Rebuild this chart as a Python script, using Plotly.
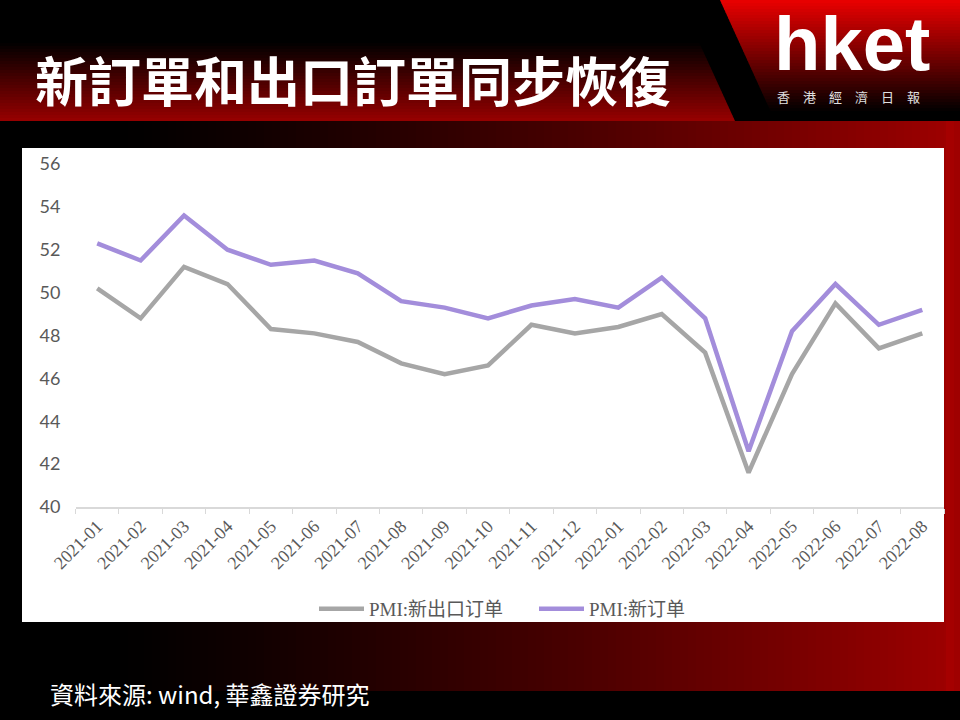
import plotly.graph_objects as go

W, H = 960, 720

months = ["2021-01", "2021-02", "2021-03", "2021-04", "2021-05", "2021-06",
          "2021-07", "2021-08", "2021-09", "2021-10", "2021-11", "2021-12",
          "2022-01", "2022-02", "2022-03", "2022-04", "2022-05", "2022-06",
          "2022-07", "2022-08"]
new_export_orders = [50.2, 48.8, 51.2, 50.4, 48.3, 48.1, 47.7, 46.7, 46.2, 46.6,
                     48.5, 48.1, 48.4, 49.0, 47.2, 41.6, 46.2, 49.5, 47.4, 48.1]
new_orders = [52.3, 51.5, 53.6, 52.0, 51.3, 51.5, 50.9, 49.6, 49.3, 48.8,
              49.4, 49.7, 49.3, 50.7, 48.8, 42.6, 48.2, 50.4, 48.5, 49.2]
y_ticks = [40, 42, 44, 46, 48, 50, 52, 54, 56]

name_export = "PMI:新出口订单"
name_orders = "PMI:新订单"
title_text = "新訂單和出口訂單同步恢復"
source_text = "資料來源: wind, 華鑫證券研究"

GRAY = "#a6a6a6"
PURPLE = "#a38ddb"
TXT = "#595959"


def px(x):
    return x / W


def py(y):
    return 1 - y / H


def rect(x0, y0, x1, y1, color):
    return dict(type="rect", xref="paper", yref="paper",
                x0=px(x0), x1=px(x1), y0=py(y1), y1=py(y0),
                fillcolor=color, line=dict(width=0), layer="below")


def quad(pts, color):
    path = "M " + " L ".join(f"{px(a):.5f},{py(b):.5f}" for a, b in pts) + " Z"
    return dict(type="path", xref="paper", yref="paper", path=path,
                fillcolor=color, line=dict(width=0), layer="below")


def red(r):
    r = int(max(0, min(255, r)))
    return f"rgb({r},0,0)"


shapes = []

# horizontal background gradient (black -> red)
step = 8
for x0 in range(0, W, step):
    t = max(0.0, (x0 + step / 2 - 100) / 860)
    shapes.append(rect(x0, 121, x0 + step + 0.5, 691, red(160 * t ** 1.3)))

# right edge accent stripe
shapes.append(rect(946, 121, 954, 691, "#a50000"))

# title banner (vertical gradient, slanted right edge)
def banner_x(y):
    return 698 + (y - 40) * (735 - 698) / 81

for y0 in range(40, 121, 3):
    y1 = min(121, y0 + 3.5)
    t = max(0.0, (y0 + 1.5 - 42) / 78)
    shapes.append(quad([(0, y0), (banner_x(y0), y0), (banner_x(y1), y1), (0, y1)],
                       red(150 * t)))

# logo block (red fading to black, slanted left edge)
def logo_x(y):
    return 720 + y * (775 - 720) / 121

for y0 in range(0, 121, 3):
    y1 = min(121, y0 + 3.5)
    t = max(0.0, 1 - (y0 + 1.5) / 112)
    shapes.append(quad([(logo_x(y0), y0), (W, y0), (W, y1), (logo_x(y1), y1)],
                       red(235 * t)))

# white chart card
shapes.append(rect(22, 148, 944, 622, "white"))

fig = go.Figure()
fig.add_trace(go.Scatter(x=months, y=new_export_orders, mode="lines",
                         name=name_export, line=dict(color=GRAY, width=4.5)))
fig.add_trace(go.Scatter(x=months, y=new_orders, mode="lines",
                         name=name_orders, line=dict(color=PURPLE, width=4.5)))

annotations = [
    dict(text=title_text, x=px(33), y=py(79), xref="paper", yref="paper",
         xanchor="left", yanchor="middle", showarrow=False,
         font=dict(family="Noto Sans CJK TC", size=53, color="white", weight="bold")),
    dict(text="hket", x=px(773), y=py(43), xref="paper", yref="paper",
         xanchor="left", yanchor="middle", showarrow=False, borderpad=0,
         font=dict(family="Liberation Sans", size=76, color="white", weight="bold")),
    dict(text="香　港　經　濟　日　報", x=px(776), y=py(97), xref="paper", yref="paper",
         xanchor="left", yanchor="middle", showarrow=False, borderpad=0,
         font=dict(family="Noto Sans CJK TC", size=13, color="#e0e0e0")),
    dict(text=source_text, x=px(48), y=py(693), xref="paper", yref="paper",
         xanchor="left", yanchor="middle", showarrow=False,
         font=dict(family="Noto Sans CJK TC", size=24, color="white")),
]

fig.update_layout(
    template="none",
    width=W, height=H,
    margin=dict(l=0, r=0, t=0, b=0),
    paper_bgcolor="black",
    plot_bgcolor="rgba(0,0,0,0)",
    shapes=shapes,
    annotations=annotations,
    showlegend=True,
    legend=dict(orientation="h", x=px(314), y=py(609), xanchor="left",
                yanchor="middle", bgcolor="rgba(0,0,0,0)",
                font=dict(family="Liberation Serif, Noto Sans CJK SC", size=19, color=TXT),
                itemwidth=45, entrywidth=160, entrywidthmode="pixels"),
    xaxis=dict(domain=[px(75.5), px(944)], type="category",
               range=[-0.5, len(months) - 0.5],
               showgrid=False, zeroline=False,
               showline=True, linecolor="#d9d9d9", linewidth=1.5,
               ticks="outside", ticklen=5, tickcolor="#d9d9d9", tickwidth=1.2,
               tickson="boundaries", tickangle=-45,
               tickfont=dict(family="Liberation Serif", size=18, color=TXT)),
    yaxis=dict(domain=[py(507), py(164)], range=[40, 56],
               tickvals=y_ticks, ticktext=[str(v) for v in y_ticks],
               showgrid=False, zeroline=False, showline=False, ticks="",
               ticklabelstandoff=14,
               tickfont=dict(family="Lato", size=18, color=TXT)),
)

fig.write_html("out.html",
               config={"displayModeBar": False},
               post_script="document.body.style.margin='0';"
                           "document.documentElement.style.margin='0';")
